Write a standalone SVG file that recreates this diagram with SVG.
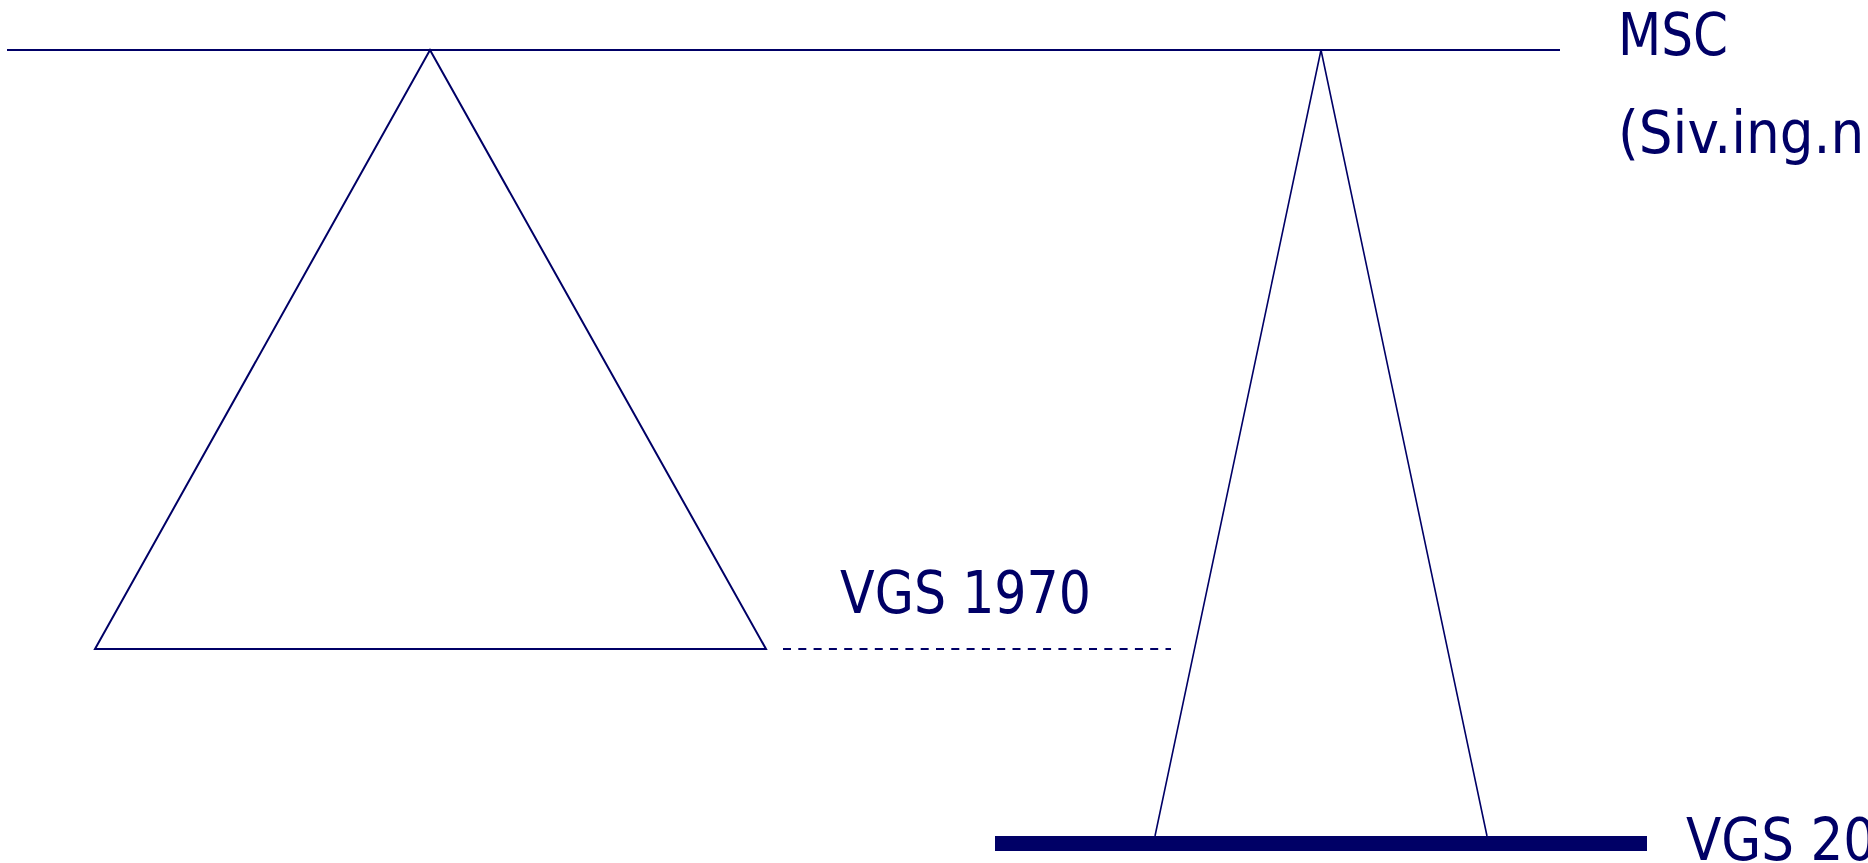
<svg xmlns="http://www.w3.org/2000/svg" width="1868" height="863" viewBox="0 0 1868 863">
<style>
.ln{fill:none;stroke:#000066;stroke-width:2;stroke-linejoin:miter}
.thin{fill:none;stroke:#000066;stroke-width:1.6}
.dash{fill:none;stroke:#000066;stroke-width:2;stroke-dasharray:8 7.3}
.lbl{font-family:"DejaVu Sans Condensed","DejaVu Sans",sans-serif;font-stretch:condensed;font-size:59px;fill:#000066}
</style>
<rect width="1868" height="863" fill="#ffffff"/>
<g id="connectors">
<line class="ln" x1="7" y1="50" x2="1560" y2="50"/>
<line class="dash" x1="783" y1="649" x2="1171" y2="649"/>
</g>
<g id="triangle-1970">
<polygon class="ln" points="430,50 766,649 95,649"/>
</g>
<g id="triangle-20">
<polyline class="thin" points="1155,836 1321,50 1487,836"/>
</g>
<g id="bar-20">
<rect x="995" y="836" width="652" height="15" fill="#000066"/>
</g>
<g id="label-msc">
<text class="lbl" x="1618" y="55" textLength="110" lengthAdjust="spacingAndGlyphs">MSC</text>
<text class="lbl" x="1618" y="153" textLength="261" lengthAdjust="spacingAndGlyphs">(Siv.ing.ni</text>
</g>
<g id="label-vgs1970">
<text class="lbl" x="840" y="613" textLength="251" lengthAdjust="spacingAndGlyphs">VGS 1970</text>
</g>
<g id="label-vgs20">
<text class="lbl" x="1686" y="860" textLength="190" lengthAdjust="spacingAndGlyphs">VGS 20</text>
</g>
</svg>
